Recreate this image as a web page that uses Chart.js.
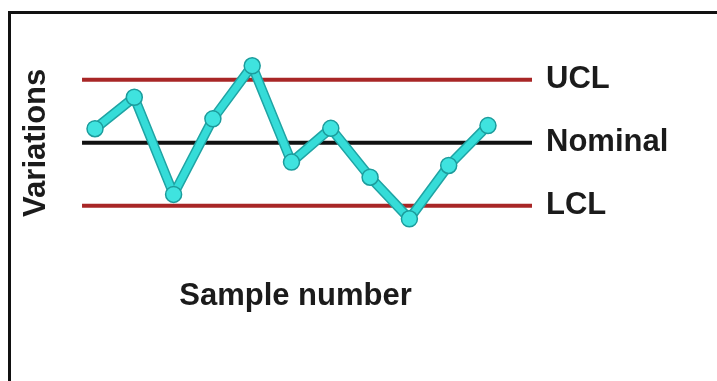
<!DOCTYPE html>
<html>
<head>
<meta charset="utf-8">
<script src="https://cdn.jsdelivr.net/npm/chart.js@4"></script>
<style>
  body { margin: 0; background: #fff; }
  #frame {
    position: absolute; left: 8px; top: 11px; width: 760px; height: 420px;
    border-left: 3px solid #111; border-top: 3px solid #111;
  }
  #wrap { position: absolute; left: 0; top: 0; width: 717px; height: 381px; overflow: hidden; }
</style>
</head>
<body>
<div id="wrap">
  <div id="frame"></div>
  <canvas id="myChart" width="717" height="381" style="position:absolute;left:0;top:0"></canvas>
</div>
<script>
const samples = [1, 2, 3, 4, 5, 6, 7, 8, 9, 10, 11];
const variations = [0.67, 2.17, -2.46, 1.14, 3.67, -0.92, 0.69, -1.64, -3.62, -1.08, 0.82];

const limitNames = ["UCL", "Nominal", "LCL"];
const limitValues = [3, 0, -3];
const limitColors = ["#a82626", "#111111", "#a82626"];
const limitSpan = [0.67, 12.12];

const textColor = "#1b1b1b";
const boldFont = { family: "'Liberation Sans', Arial, sans-serif", size: 31, weight: "bold" };

const points = samples.map((s, i) => ({ x: s, y: variations[i] }));

const limitSets = limitValues.map((v, i) => ({
  label: limitNames[i],
  data: limitSpan.map((x) => ({ x: x, y: v })),
  borderColor: limitColors[i],
  borderWidth: 4,
  pointRadius: 0,
  order: 10,
}));

const config = {
  type: "line",
  data: {
    datasets: [
      {
        label: "Variations",
        data: points,
        borderColor: "#35dcd8",
        borderWidth: 7,
        pointRadius: 8,
        pointBackgroundColor: "#3fe3df",
        pointBorderColor: "#1c9c9c",
        pointBorderWidth: 1.5,
        borderJoinStyle: "round",
        order: 1,
      },
      {
        label: "outline",
        data: points,
        borderColor: "#1fa4a4",
        borderWidth: 10,
        pointRadius: 0,
        borderJoinStyle: "round",
        order: 2,
      },
      ...limitSets,
    ],
  },
  options: {
    responsive: false,
    animation: false,
    layout: { padding: 0 },
    plugins: { legend: { display: false }, tooltip: { enabled: false } },
    scales: {
      x: {
        type: "linear",
        min: 0.084,
        max: 12.12,
        grid: { display: false, drawTicks: false },
        border: { display: false },
        ticks: { display: false },
        title: {
          display: true,
          text: "Sample number",
          color: textColor,
          font: boldFont,
          padding: { top: 0, bottom: 66 },
        },
        afterFit: (axis) => { axis.height = 128; },
      },
      y: {
        position: "left",
        min: -5.25,
        max: 5.25,
        grid: { display: false, drawTicks: false },
        border: { display: false },
        ticks: { display: false },
        title: {
          display: true,
          text: "Variations",
          color: textColor,
          font: boldFont,
          padding: { top: 18, bottom: 0 },
        },
        afterFit: (axis) => { axis.width = 59; },
      },
      y2: {
        position: "right",
        min: -5.25,
        max: 5.25,
        grid: { display: false, drawTicks: false },
        border: { display: false },
        afterBuildTicks: (axis) => {
          axis.ticks = limitValues.map((v) => ({ value: v }));
        },
        ticks: {
          autoSkip: false,
          padding: 14,
          color: textColor,
          font: boldFont,
          callback: (value) => limitNames[limitValues.indexOf(value)],
        },
        afterFit: (axis) => { axis.width = 185; },
      },
    },
  },
};

const myChart = new Chart(document.getElementById("myChart"), config);
</script>
</body>
</html>
